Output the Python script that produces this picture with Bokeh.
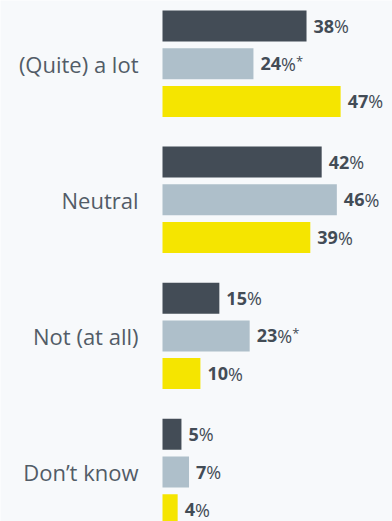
from bokeh.plotting import figure
from bokeh.models import Range1d, ColumnDataSource
from bokeh.core.properties import value
from bokeh.embed import file_html
from bokeh.resources import INLINE

categories = ["(Quite) a lot", "Neutral", "Not (at all)", "Don\u2019t know"]
series_a = [38, 42, 15, 5]
series_b = [24, 46, 23, 7]
series_c = [47, 39, 10, 4]
flag_b = [True, False, True, False]
colors = ["#434c56", "#aebfca", "#f5e500"]

PX_PER_PCT = 3.79
LEFT_PX = 162
W, H = 392, 521
GROUP_PITCH = 136.1
BAR_PITCH = 37.7
BAR_H = 31
FIRST_CENTER = 63.2

rows = dict(y=[], v=[], c=[], flag=[])
for g in range(len(categories)):
    for s, (vals, col) in enumerate(zip([series_a, series_b, series_c], colors)):
        rows["y"].append(FIRST_CENTER + GROUP_PITCH * g + (s - 1) * BAR_PITCH)
        rows["v"].append(vals[g])
        rows["c"].append(col)
        rows["flag"].append(s == 1 and flag_b[g])

FS = 18
DIGIT_W = 0.572 * FS
PCT_W = 0.83 * FS
rows["num"] = [str(v) for v in rows["v"]]
rows["pct"] = ["%"] * len(rows["v"])
rows["off_num"] = [7] * len(rows["v"])
rows["off_pct"] = [7 + len(str(v)) * DIGIT_W for v in rows["v"]]
rows["off_star"] = [7 + len(str(v)) * DIGIT_W + PCT_W for v in rows["v"]]
src = ColumnDataSource(rows)

star_src = ColumnDataSource({k: [x for x, f in zip(vv, rows["flag"]) if f] for k, vv in rows.items()})

p = figure(width=W, height=H, output_backend="svg", toolbar_location=None,
           x_range=Range1d(-LEFT_PX / PX_PER_PCT, (W - LEFT_PX) / PX_PER_PCT),
           y_range=Range1d(H, 0), min_border=0)
p.background_fill_color = "#f7f9fb"
p.border_fill_color = "#f7f9fb"
p.outline_line_color = None
p.axis.visible = False
p.grid.visible = False

p.hbar(y="y", left=0, right="v", height=BAR_H, fill_color="c", line_color=None, source=src)

p.text(x="v", y="y", text="num", x_offset="off_num", source=src,
       text_font=value("Open Sans"), text_font_style="bold", text_font_size=f"{FS}px",
       text_color="#434c56", text_baseline="middle", text_align="left")
p.text(x="v", y="y", text="pct", x_offset="off_pct", source=src,
       text_font=value("Open Sans"), text_font_size=f"{FS}px",
       text_color="#434c56", text_baseline="middle", text_align="left")
p.text(x="v", y="y", text=value("*"), x_offset="off_star", y_offset=-3, source=star_src,
       text_font=value("Open Sans"), text_font_size="13px",
       text_color="#434c56", text_baseline="middle", text_align="left")

cat_src = ColumnDataSource(dict(x=[0] * len(categories),
                                y=[FIRST_CENTER + GROUP_PITCH * g for g in range(len(categories))],
                                t=categories))
p.text(x="x", y="y", text="t", x_offset=-24, source=cat_src,
       text_font=value("Open Sans"), text_font_size="22px",
       text_color="#525c67", text_baseline="middle", text_align="right")

open("out.html", "w").write(file_html(p, INLINE))
